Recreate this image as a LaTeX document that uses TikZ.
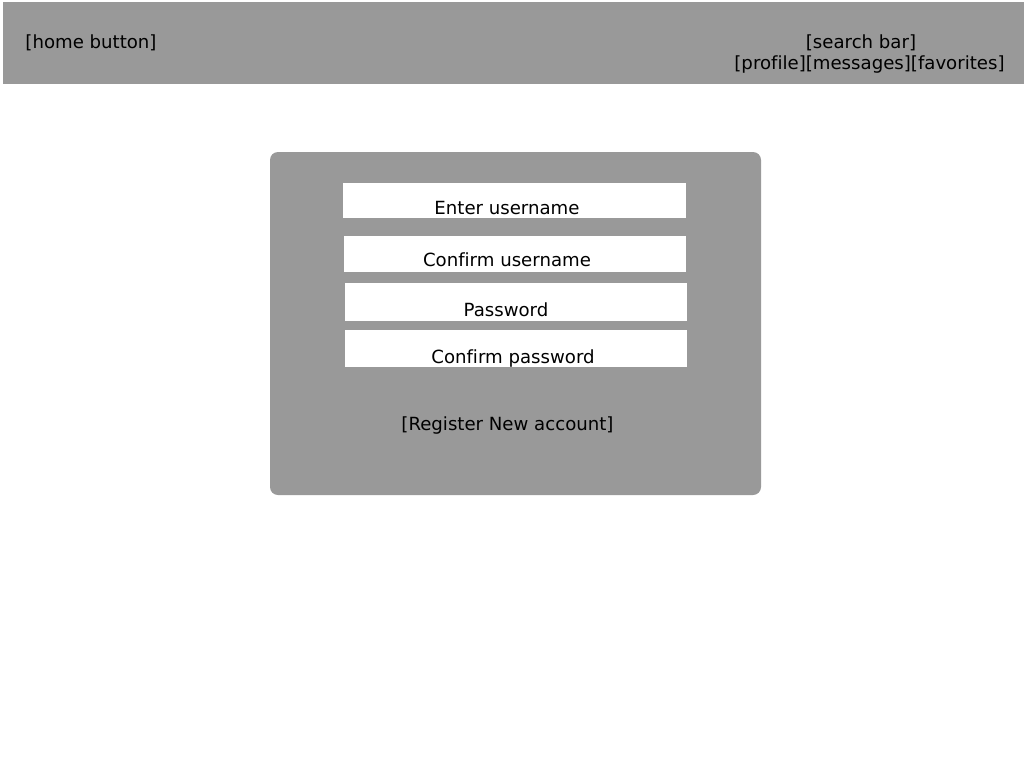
\documentclass[tikz,border=0pt]{standalone}
\usepackage{fontspec}
\setmainfont[Ligatures=NoCommon]{DejaVu Sans}
\usepackage{tikz}

\definecolor{barGray}{HTML}{999999}

\tikzset{
    bar/.style={fill=barGray, draw=none, inner sep=0pt},
    field/.style={fill=white, draw=none, inner sep=0pt},
    lbl/.style={font=\fontsize{13.6}{16}\selectfont, text=black, inner sep=0pt}
}

\begin{document}
\begin{tikzpicture}[x=0.75pt, y=-0.75pt]
    \useasboundingbox (0,0) rectangle (1024,768);
    \fill[white] (0,0) rectangle (1024,768);

    \node[bar, minimum width=1021*0.75pt, minimum height=82*0.75pt] (header) at (513.5,43) {};
    \node[lbl] (home) at (91,42.5) {[home button]};
    \node[lbl] (search) at (861,42.5) {[search bar]};
    \node[lbl] (links) at (869.5,64.5) {[profile][messages][favorites]};

    \node[bar, rounded corners=6pt, minimum width=491*0.75pt, minimum height=343*0.75pt] (panel) at (515.5,323.5) {};

    \node[field, minimum width=343*0.75pt, minimum height=35*0.75pt] (user) at (514.5,200.5) {};
    \node[field, minimum width=342*0.75pt, minimum height=36*0.75pt] (userconf) at (515,254) {};
    \node[field, minimum width=342*0.75pt, minimum height=38*0.75pt] (pass) at (516,302) {};
    \node[field, minimum width=342*0.75pt, minimum height=37*0.75pt] (passconf) at (516,348.5) {};

    \node[lbl] (userlbl) at (507,208) {Enter username};
    \node[lbl] (userconflbl) at (507,260) {Confirm username};
    \node[lbl] (passlbl) at (506,310) {Password};
    \node[lbl] (passconflbl) at (513,358.5) {Confirm password};

    \node[lbl] (register) at (507.5,425) {[Register New account]};
\end{tikzpicture}
\end{document}
